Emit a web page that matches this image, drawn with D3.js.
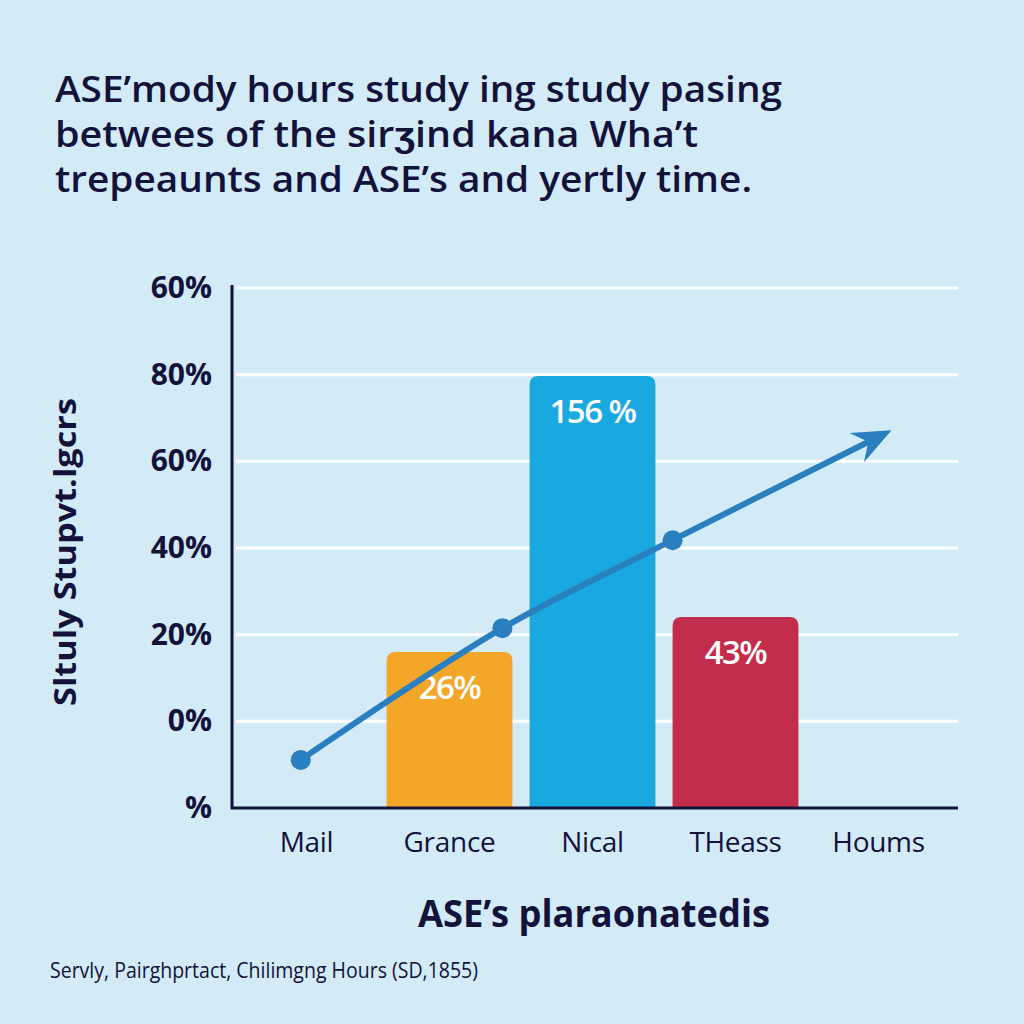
<!DOCTYPE html>
<html><head><meta charset="utf-8">
<script src="https://cdn.jsdelivr.net/npm/d3@7"></script>
<style>html,body{margin:0;padding:0;background:#d2ebf7;}svg{display:block;}</style>
</head><body>
<svg id="chart" width="1024" height="1024"></svg>
<script>
// ---- data ----
const titleLines = ["ASE\u2019mody hours study ing study pasing", "betwees of the sir\u0292ind kana Wha\u2019t", "trepeaunts and ASE\u2019s and yertly time."];
const categories = ["Mail", "Grance", "Nical", "THeass", "Houms"];
const tickValues = [0, 20, 40, 60, 80, 100, 120];
const tickLabels = ["%", "0%", "20%", "40%", "60%", "80%", "60%"];
const barCategories = ["Grance", "Nical", "THeass"];
const barValues = [36, 99.7, 44.1];
const barLabels = ["26%", "156 %", "43%"];
const barColors = ["#f4a628", "#19a8e0", "#c12d4b"];
const lineX = [-0.04, 1.37, 2.56, 3.99];      // position in category units
const lineY = [11.1, 41.5, 61.8, 85.5];
const yTitle = "Sltuly Stupvt.lgcrs";
const xTitle = "ASE\u2019s plaraonatedis";
const sourceText = "Servly, Pairghprtact, Chilimgng Hours (SD,1855)";

const svg = d3.select("#chart");
const navy = "#12123a";
const font = "Open Sans, sans-serif";
svg.append("rect").attr("width",1024).attr("height",1024).attr("fill","#d2ebf7");

// title
svg.append("g").selectAll("text").data(titleLines).join("text")
  .attr("x",55).attr("y",(d,i)=>102+i*45)
  .attr("font-family",font).attr("font-weight",600)
  .attr("font-size",35.5).attr("fill",navy)
  .attr("textLength",(d,i)=>[727,643,697][i]).attr("lengthAdjust","spacingAndGlyphs")
  .text(d=>d);

const x = d3.scaleBand().domain(categories).range([235,950]).paddingInner(0.12).paddingOuter(0.06);
const y = d3.scaleLinear().domain([0,120]).range([808,288]);
const xi = d3.scaleLinear().domain([0,1]).range([x(categories[0])+x.bandwidth()/2, x(categories[1])+x.bandwidth()/2]);

// gridlines
svg.append("g").selectAll("line").data(tickValues.slice(1)).join("line")
  .attr("x1",236).attr("x2",958).attr("y1",d=>y(d)).attr("y2",d=>y(d))
  .attr("stroke","#ffffff").attr("stroke-width",3);

// y axis
const yAxis = d3.axisLeft(y).tickValues(tickValues).tickFormat((d,i)=>tickLabels[i]).tickSize(0).tickPadding(20);
const gy = svg.append("g").attr("transform","translate(232,0)").call(yAxis);
gy.select(".domain").remove();
gy.selectAll("text").attr("font-family",font).attr("font-weight",700)
  .attr("font-size",30).attr("fill",navy);

// bars
const rr = 9;
function topRounded(x0,y0,w,h,r){
  return `M${x0},${y0+h}V${y0+r}Q${x0},${y0} ${x0+r},${y0}H${x0+w-r}Q${x0+w},${y0} ${x0+w},${y0+r}V${y0+h}Z`;
}
svg.append("g").selectAll("path").data(barValues).join("path")
  .attr("d",(d,i)=>topRounded(x(barCategories[i]), y(d), x.bandwidth(), y(0)-y(d), rr))
  .attr("fill",(d,i)=>barColors[i]);
svg.append("g").selectAll("text").data(barLabels).join("text")
  .attr("x",(d,i)=>x(barCategories[i])+x.bandwidth()/2)
  .attr("y",(d,i)=>y(barValues[i])+47)
  .attr("text-anchor","middle").attr("font-family",font).attr("font-weight",600)
  .attr("font-size",33).attr("fill","#ffffff").attr("letter-spacing",-1.5)
  .text(d=>d);

// axes lines
svg.append("line").attr("x1",232).attr("x2",232).attr("y1",285).attr("y2",809).attr("stroke",navy).attr("stroke-width",3);
svg.append("line").attr("x1",231).attr("x2",958).attr("y1",808).attr("y2",808).attr("stroke",navy).attr("stroke-width",3);

// x axis labels
const xAxis = d3.axisBottom(x).tickSize(0).tickPadding(24);
const gx = svg.append("g").attr("transform","translate(0,808)").call(xAxis);
gx.select(".domain").remove();
gx.selectAll("text").attr("font-family",font).attr("font-weight",400)
  .attr("font-size",28).attr("fill",navy).attr("letter-spacing",-0.3);

// trend line with arrow
const lineColor = "#2a7fc1";
const defs = svg.append("defs");
defs.append("marker").attr("id","arr").attr("viewBox","0 0 12 12").attr("refX",7).attr("refY",6)
  .attr("markerWidth",6.5).attr("markerHeight",6.5).attr("orient","auto").attr("markerUnits","strokeWidth")
  .append("path").attr("d","M0,1 L12,6 L0,11 L4,6 Z").attr("fill",lineColor);
const pts = lineX.map((v,i)=>[xi(v), y(lineY[i])]);
svg.append("path").datum(pts)
  .attr("d", d3.line().curve(d3.curveCatmullRom.alpha(0.5)))
  .attr("fill","none").attr("stroke",lineColor).attr("stroke-width",6).attr("stroke-linecap","round")
  .attr("marker-end","url(#arr)");
svg.append("g").selectAll("circle").data(pts.slice(0,3)).join("circle")
  .attr("cx",d=>d[0]).attr("cy",d=>d[1]).attr("r",10).attr("fill",lineColor);

// axis titles
svg.append("text").attr("transform","translate(76,552) rotate(-90)").attr("text-anchor","middle")
  .attr("font-family",font).attr("font-weight",700).attr("font-size",30).attr("fill",navy)
  .attr("textLength",308).attr("lengthAdjust","spacingAndGlyphs")
  .text(yTitle);
svg.append("text").attr("x",594).attr("y",927).attr("text-anchor","middle")
  .attr("font-family",font).attr("font-weight",700).attr("font-size",37).attr("fill",navy)
  .attr("textLength",352).attr("lengthAdjust","spacingAndGlyphs").text(xTitle);
svg.append("text").attr("x",50).attr("y",978)
  .attr("font-family",font).attr("font-weight",400).attr("font-size",21).attr("fill",navy)
  .attr("textLength",428).attr("lengthAdjust","spacingAndGlyphs").text(sourceText);
</script>
</body></html>
